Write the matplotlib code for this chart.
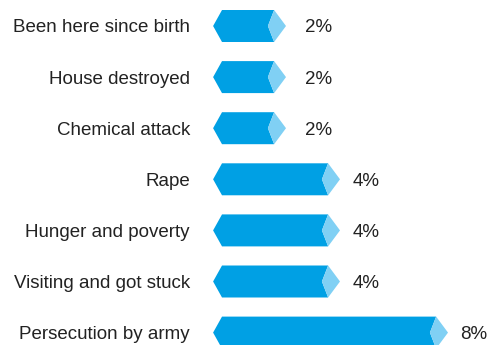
import matplotlib.pyplot as plt
from matplotlib.patches import Polygon

categories = ["Been here since birth", "House destroyed", "Chemical attack", "Rape",
              "Hunger and poverty", "Visiting and got stuck", "Persecution by army"]
values = [2, 2, 2, 4, 4, 4, 8]
value_labels = ["2%", "2%", "2%", "4%", "4%", "4%", "8%"]

dark = "#00a0e4"
light = "#80d0f4"

fig = plt.figure(figsize=(4.92, 3.45), dpi=100)
ax = fig.add_axes([0, 0, 1, 1])
ax.set_xlim(-232 / 27, (492 - 232) / 27)
ax.set_ylim((345 - 26) / 51.1, -26 / 51.1)
ax.axis("off")

h = 0.313  # half bar height in row units
for i, (cat, v, lab) in enumerate(zip(categories, values, value_labels)):
    body = [(-0.70, i), (-0.37, i - h), (v - 0.44, i - h), (v - 0.67, i),
            (v - 0.44, i + h), (-0.37, i + h)]
    tip = [(v - 0.67, i), (v - 0.44, i - h), (v, i), (v - 0.44, i + h)]
    ax.add_patch(Polygon(body, closed=True, facecolor=dark, edgecolor="none"))
    ax.add_patch(Polygon(tip, closed=True, facecolor=light, edgecolor="none"))
    ax.text(-1.556, i, cat, ha="right", va="center_baseline", fontsize=13.5,
            family="Liberation Sans", color="#222222")
    # labels keep a minimum position so short bars still have room
    ax.text(max(v + 0.46, 2.72), i, lab, ha="left", va="center_baseline", fontsize=13.5,
            family="Liberation Sans", color="#222222")

fig.savefig("out.png", dpi=100)
